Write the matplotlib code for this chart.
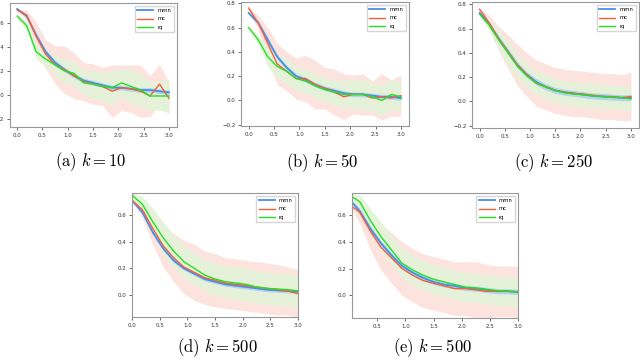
import numpy as np
import matplotlib
matplotlib.use('Agg')
import matplotlib.pyplot as plt

plt.rcParams['mathtext.fontset'] = 'cm'

# time grid (17 checkpoints between 0 and 3)
t = np.linspace(0, 3, 17)

# (a) k = 10
a_mmn = [0.72, 0.66, 0.50, 0.36, 0.27, 0.21, 0.16, 0.12, 0.10, 0.08, 0.06, 0.06, 0.05, 0.04, 0.04, 0.03, 0.02]
a_mc = [0.71, 0.67, 0.49, 0.34, 0.25, 0.21, 0.16, 0.11, 0.09, 0.07, 0.03, 0.06, 0.05, 0.03, -0.01, 0.09, -0.03]
a_rq = [0.66, 0.58, 0.36, 0.30, 0.25, 0.20, 0.18, 0.10, 0.09, 0.07, 0.06, 0.10, 0.07, 0.04, -0.01, -0.01, -0.01]
a_mmn_sd = [0.01, 0.015, 0.02, 0.02, 0.02, 0.02, 0.02, 0.02, 0.02, 0.02, 0.02, 0.02, 0.02, 0.02, 0.02, 0.02, 0.02]
a_mc_sd = [0.01, 0.04, 0.12, 0.12, 0.16, 0.20, 0.19, 0.16, 0.17, 0.16, 0.22, 0.19, 0.20, 0.22, 0.17, 0.17, 0.13]
a_rq_sd = [0.02, 0.04, 0.06, 0.06, 0.08, 0.10, 0.10, 0.10, 0.12, 0.12, 0.14, 0.12, 0.14, 0.14, 0.12, 0.12, 0.14]

# (b) k = 50
b_mmn = [0.72, 0.64, 0.50, 0.36, 0.27, 0.20, 0.17, 0.13, 0.10, 0.08, 0.06, 0.05, 0.05, 0.04, 0.03, 0.03, 0.02]
b_mc = [0.76, 0.64, 0.47, 0.30, 0.24, 0.18, 0.18, 0.13, 0.10, 0.07, 0.03, 0.05, 0.05, 0.02, 0.03, 0.02, 0.04]
b_rq = [0.60, 0.50, 0.36, 0.28, 0.24, 0.18, 0.16, 0.12, 0.09, 0.07, 0.05, 0.05, 0.05, 0.03, 0.00, 0.05, 0.03]
b_mmn_sd = [0.01, 0.02, 0.02, 0.02, 0.02, 0.02, 0.02, 0.02, 0.02, 0.02, 0.02, 0.02, 0.02, 0.02, 0.02, 0.02, 0.02]
b_mc_sd = [0.01, 0.06, 0.13, 0.17, 0.16, 0.17, 0.19, 0.20, 0.17, 0.19, 0.19, 0.16, 0.17, 0.14, 0.19, 0.15, 0.17]
b_rq_sd = [0.01, 0.04, 0.08, 0.10, 0.10, 0.10, 0.10, 0.10, 0.10, 0.10, 0.11, 0.12, 0.12, 0.12, 0.13, 0.12, 0.12]

# (c) k = 250
c_mmn = [0.73, 0.64, 0.52, 0.41, 0.30, 0.22, 0.16, 0.12, 0.09, 0.075, 0.065, 0.055, 0.045, 0.04, 0.035, 0.03, 0.03]
c_mc = [0.76, 0.65, 0.52, 0.41, 0.30, 0.22, 0.15, 0.12, 0.09, 0.075, 0.065, 0.06, 0.05, 0.04, 0.04, 0.03, 0.04]
c_rq = [0.72, 0.63, 0.51, 0.40, 0.29, 0.21, 0.15, 0.12, 0.09, 0.07, 0.06, 0.055, 0.045, 0.04, 0.035, 0.03, 0.02]
c_mmn_sd = [0.01, 0.02, 0.025, 0.025, 0.025, 0.025, 0.025, 0.025, 0.025, 0.025, 0.025, 0.025, 0.025, 0.025, 0.025, 0.025, 0.025]
c_mc_sd = [0.01, 0.06, 0.10, 0.14, 0.17, 0.18, 0.19, 0.19, 0.19, 0.19, 0.19, 0.19, 0.19, 0.19, 0.19, 0.19, 0.20]
c_rq_sd = [0.01, 0.04, 0.08, 0.10, 0.10, 0.10, 0.10, 0.10, 0.10, 0.10, 0.10, 0.10, 0.10, 0.10, 0.10, 0.10, 0.10]

# (d) k = 500
d_mmn = [0.71, 0.62, 0.47, 0.35, 0.26, 0.20, 0.16, 0.12, 0.10, 0.08, 0.07, 0.06, 0.05, 0.04, 0.035, 0.03, 0.025]
d_mc = [0.71, 0.64, 0.50, 0.37, 0.28, 0.21, 0.17, 0.13, 0.11, 0.09, 0.08, 0.07, 0.06, 0.05, 0.04, 0.03, 0.01]
d_rq = [0.75, 0.68, 0.55, 0.43, 0.33, 0.25, 0.20, 0.15, 0.12, 0.10, 0.09, 0.08, 0.06, 0.05, 0.045, 0.04, 0.03]
d_mmn_sd = [0.01, 0.015, 0.015, 0.015, 0.015, 0.015, 0.015, 0.015, 0.015, 0.015, 0.015, 0.015, 0.015, 0.015, 0.015, 0.015, 0.015]
d_mc_sd = [0.01, 0.06, 0.12, 0.16, 0.18, 0.20, 0.21, 0.20, 0.20, 0.19, 0.19, 0.19, 0.19, 0.19, 0.19, 0.18, 0.18]
d_rq_sd = [0.02, 0.06, 0.10, 0.12, 0.12, 0.12, 0.12, 0.12, 0.12, 0.12, 0.12, 0.12, 0.12, 0.12, 0.12, 0.12, 0.12]

# (e) k = 500
e_mmn = [0.72, 0.63, 0.50, 0.39, 0.30, 0.22, 0.17, 0.13, 0.10, 0.08, 0.07, 0.055, 0.05, 0.04, 0.03, 0.03, 0.025]
e_mc = [0.68, 0.62, 0.48, 0.36, 0.28, 0.20, 0.15, 0.11, 0.09, 0.07, 0.05, 0.05, 0.04, 0.03, 0.03, 0.03, 0.025]
e_rq = [0.75, 0.70, 0.56, 0.44, 0.34, 0.24, 0.19, 0.15, 0.12, 0.10, 0.08, 0.06, 0.055, 0.045, 0.035, 0.03, 0.025]
e_mmn_sd = [0.01, 0.02, 0.02, 0.02, 0.02, 0.02, 0.02, 0.02, 0.02, 0.02, 0.02, 0.02, 0.02, 0.02, 0.02, 0.02, 0.02]
e_mc_sd = [0.01, 0.08, 0.14, 0.17, 0.19, 0.20, 0.20, 0.20, 0.20, 0.20, 0.20, 0.20, 0.21, 0.20, 0.19, 0.19, 0.19]
e_rq_sd = [0.02, 0.05, 0.09, 0.11, 0.11, 0.11, 0.11, 0.11, 0.11, 0.11, 0.11, 0.11, 0.11, 0.11, 0.11, 0.11, 0.11]

captions = [r'$\mathrm{(a)}\ k = 10$', r'$\mathrm{(b)}\ k = 50$', r'$\mathrm{(c)}\ k = 250$',
            r'$\mathrm{(d)}\ k = 500$', r'$\mathrm{(e)}\ k = 500$']

panels = [
    (a_mmn, a_mmn_sd, a_mc, a_mc_sd, a_rq, a_rq_sd),
    (b_mmn, b_mmn_sd, b_mc, b_mc_sd, b_rq, b_rq_sd),
    (c_mmn, c_mmn_sd, c_mc, c_mc_sd, c_rq, c_rq_sd),
    (d_mmn, d_mmn_sd, d_mc, d_mc_sd, d_rq, d_rq_sd),
    (e_mmn, e_mmn_sd, e_mc, e_mc_sd, e_rq, e_rq_sd),
]

W, H = 640, 361
# axes boxes in pixels: left, top, right, bottom
boxes = [(9.6, 3, 176.6, 127), (241, 2, 408.5, 126), (472, 2, 638.5, 128),
         (132, 193, 298, 317), (352, 193, 518, 318)]
ylims = [(-0.27, 0.77), (-0.21, 0.81), (-0.22, 0.82), (-0.165, 0.765), (-0.17, 0.765)]
xlims = [None, None, None, (0, 3), (0.05, 3)]
xticks = [[0.0, 0.5, 1.0, 1.5, 2.0, 2.5, 3.0]] * 4 + [[0.5, 1.0, 1.5, 2.0, 2.5, 3.0]]
yticks = [[-0.2, 0.0, 0.2, 0.4, 0.6], [-0.2, 0.0, 0.2, 0.4, 0.6, 0.8], [-0.2, 0.0, 0.2, 0.4, 0.6, 0.8],
          [0.0, 0.2, 0.4, 0.6], [0.0, 0.2, 0.4, 0.6]]
cap_pos = [(91, 162), (322, 163), (553, 163), (217, 348), (432, 348)]

col_mmn, col_mc, col_rq = '#4a8fe7', '#f4603a', '#22e022'

fig = plt.figure(figsize=(6.4, 3.61), dpi=100)

for i, (mmn, mmn_sd, mc, mc_sd, rq, rq_sd) in enumerate(panels):
    l, tp, r, b = boxes[i]
    ax = fig.add_axes([l / W, 1 - b / H, (r - l) / W, (b - tp) / H])
    mmn, mmn_sd = np.array(mmn), np.array(mmn_sd)
    mc, mc_sd = np.array(mc), np.array(mc_sd)
    rq, rq_sd = np.array(rq), np.array(rq_sd)

    ax.fill_between(t, mc - mc_sd, mc + mc_sd, color='#fde3de', lw=0)
    ax.fill_between(t, rq - rq_sd, rq + rq_sd, color='#e3f4d9', alpha=0.9, lw=0)
    ax.fill_between(t, mmn - mmn_sd, mmn + mmn_sd, color='#a9d0ee', alpha=0.8, lw=0)

    ax.plot(t, mmn, color=col_mmn, lw=1.3, label='mmn')
    ax.plot(t, mc, color=col_mc, lw=1.0, label='mc')
    ax.plot(t, rq, color=col_rq, lw=1.0, label='rq')

    ax.set_ylim(*ylims[i])
    if xlims[i] is not None:
        ax.set_xlim(*xlims[i])
    ax.set_xticks(xticks[i])
    ax.set_yticks(yticks[i])
    ax.tick_params(labelsize=4, length=2, width=0.5, pad=2, colors='#333333')
    for s in ax.spines.values():
        s.set_color('#999999')
        s.set_linewidth(0.8)

    ax.legend(loc='upper right', fontsize=3.8, handlelength=3, frameon=True, fancybox=False,
              edgecolor='#cccccc', borderpad=0.5, labelspacing=0.6)

    cx, cy = cap_pos[i]
    fig.text(cx / W, 1 - cy / H, captions[i], ha='center', va='center', fontsize=12)

fig.savefig('out.png', dpi=100)
